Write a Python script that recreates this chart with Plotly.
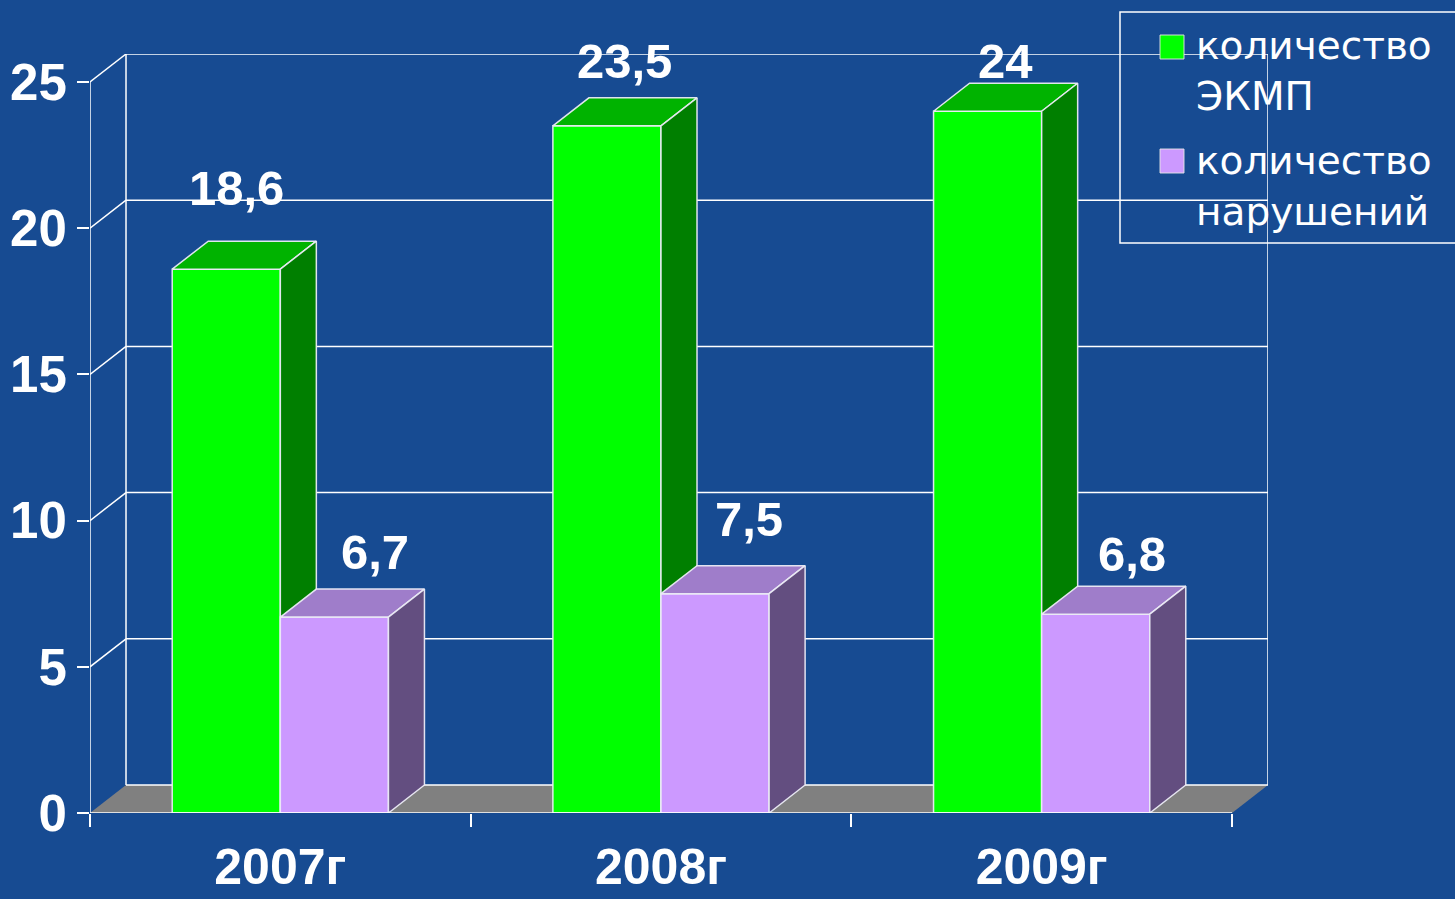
import plotly.graph_objects as go

# ---------------- data ----------------
years = ["2007г", "2008г", "2009г"]
ekmp = [18.6, 23.5, 24]            # количество ЭКМП
violations = [6.7, 7.5, 6.8]       # количество нарушений
ekmp_labels = ["18,6", "23,5", "24"]
viol_labels = ["6,7", "7,5", "6,8"]
y_ticks = [0, 5, 10, 15, 20, 25]
series_names = ["количество<br>ЭКМП", "количество<br>нарушений"]

# ---------------- style / geometry ----------------
W, H = 1455, 899
ML, MR, MT, MB = 90, 187, 54, 86
DX = 0.0946        # depth offset in category units
DY = 0.958         # depth offset in value units
BW = 0.284         # bar width (category units)
YMAX = 25
BG = "#174b92"
WHITE = "#ffffff"
EDGE = "rgba(235,235,245,0.95)"

green = dict(front="#00ff00", top="#00b300", side="#007f00")
purple = dict(front="#cc99ff", top="#9f7dca", side="#634e80")

# label nudges (pixels) [dx, dy]
ekmp_nudge = [(-8, 53), (0, 37), (0, 22)]
viol_nudge = [(23, 37), (16, 47), (18, 32)]

fig = go.Figure()


def add_bars(values, offset, col):
    fx, fy, tx, ty, sx, sy = [], [], [], [], [], []
    for i, v in enumerate(values):
        c = i + 0.5
        x0 = c + offset
        x1 = x0 + BW
        fx += [x0, x1, x1, x0, x0, None]
        fy += [0, 0, v, v, 0, None]
        tx += [x0, x1, x1 + DX, x0 + DX, x0, None]
        ty += [v, v, v + DY, v + DY, v, None]
        sx += [x1, x1 + DX, x1 + DX, x1, x1, None]
        sy += [0, DY, v + DY, v, 0, None]
    for xs, ys, fc in ((fx, fy, col["front"]), (tx, ty, col["top"]), (sx, sy, col["side"])):
        fig.add_trace(go.Scatter(x=xs, y=ys, mode="lines", fill="toself",
                                 fillcolor=fc, line=dict(color=EDGE, width=1.5),
                                 hoverinfo="skip", showlegend=False))


add_bars(ekmp, -BW, green)
add_bars(violations, 0.0, purple)

label_font = dict(family="Liberation Sans", size=49, color=WHITE, weight="bold")
for i, (v, t) in enumerate(zip(ekmp, ekmp_labels)):
    fig.add_annotation(x=i + 0.5 - BW / 2 + DX / 2, y=v + DY, text=t, showarrow=False,
                       xshift=ekmp_nudge[i][0], yshift=ekmp_nudge[i][1],
                       yanchor="middle", xanchor="center", font=label_font)
for i, (v, t) in enumerate(zip(violations, viol_labels)):
    fig.add_annotation(x=i + 0.5 + BW / 2 + DX / 2, y=v + DY, text=t, showarrow=False,
                       xshift=viol_nudge[i][0], yshift=viol_nudge[i][1],
                       yanchor="middle", xanchor="center", font=label_font)

# ---------------- walls / floor ----------------
ncat = len(years)
shapes = []
shapes.append(dict(type="path", xref="x", yref="y", layer="below",
                   path=f"M0,0 L{ncat},0 L{ncat + DX},{DY} L{DX},{DY} Z",
                   fillcolor="#808080", line=dict(width=0)))
line_style = dict(color=WHITE, width=1.5)
for v in y_ticks:
    shapes.append(dict(type="line", xref="x", yref="y", layer="below",
                       x0=DX, x1=ncat + DX, y0=v + DY, y1=v + DY, line=line_style))
    if v > 0:
        shapes.append(dict(type="line", xref="x", yref="y", layer="below",
                           x0=0, x1=DX, y0=v, y1=v + DY, line=line_style))
shapes.append(dict(type="line", xref="x", yref="y", layer="below",
                   x0=DX, x1=DX, y0=DY, y1=YMAX + DY, line=line_style))
shapes.append(dict(type="line", xref="x", yref="y", layer="below",
                   x0=ncat + DX, x1=ncat + DX, y0=DY, y1=YMAX + DY, line=line_style))
shapes.append(dict(type="line", xref="x", yref="y", layer="above",
                   x0=0, x1=0, y0=0, y1=YMAX, line=line_style))
shapes.append(dict(type="line", xref="x", yref="y", layer="above",
                   x0=0, x1=ncat, y0=0, y1=0, line=line_style))


# ---------------- legend (box + swatches + text) ----------------
def px(X):
    return (X - ML) / (W - ML - MR)


def py(Y):
    return (H - MB - Y) / (H - MT - MB)


shapes.append(dict(type="rect", xref="paper", yref="paper", layer="above",
                   x0=px(1120), x1=px(1462), y0=py(243), y1=py(12),
                   line=dict(color=WHITE, width=1.5), fillcolor="rgba(0,0,0,0)"))
for (ytop, col) in ((35, green["front"]), (149, purple["front"])):
    shapes.append(dict(type="rect", xref="paper", yref="paper", layer="above",
                       x0=px(1160), x1=px(1184), y0=py(ytop + 24), y1=py(ytop),
                       line=dict(color="rgba(230,230,230,0.9)", width=1), fillcolor=col))
for (ytop, name) in ((21, series_names[0]), (136, series_names[1])):
    fig.add_annotation(xref="paper", yref="paper", x=px(1194), y=py(ytop), text=name,
                       showarrow=False, xanchor="left", yanchor="top", align="left",
                       font=dict(family="DejaVu Sans", size=39, color=WHITE))

fig.update_layout(
    width=W, height=H,
    margin=dict(l=ML, r=MR, t=MT, b=MB, pad=0, autoexpand=False),
    paper_bgcolor=BG, plot_bgcolor="rgba(0,0,0,0)",
    showlegend=False,
    shapes=shapes,
    xaxis=dict(range=[0, ncat + DX], tickvals=[i + 0.5 for i in range(ncat)], ticktext=years,
               ticks="", showgrid=False, zeroline=False, showline=False, automargin=False,
               ticklabelstandoff=20,
               minor=dict(tickvals=list(range(ncat + 1)), ticks="outside", ticklen=13,
                          tickcolor=WHITE, tickwidth=1.5, showgrid=False),
               tickfont=dict(family="Liberation Sans", size=50, color=WHITE, weight="bold"),
               fixedrange=True),
    yaxis=dict(range=[0, YMAX + DY], tickvals=y_ticks, ticktext=[str(t) for t in y_ticks],
               ticks="outside", ticklen=12, tickcolor=WHITE, tickwidth=1.5,
               showgrid=False, zeroline=False, showline=False, automargin=False,
               tickfont=dict(family="Liberation Sans", size=51, color=WHITE, weight="bold"),
               fixedrange=True),
)

fig.write_html("out.html", config={"displayModeBar": False},
               post_script="document.body.style.margin='0px';"
                           "document.body.style.overflow='hidden';"
                           "document.body.style.background='" + BG + "';")
